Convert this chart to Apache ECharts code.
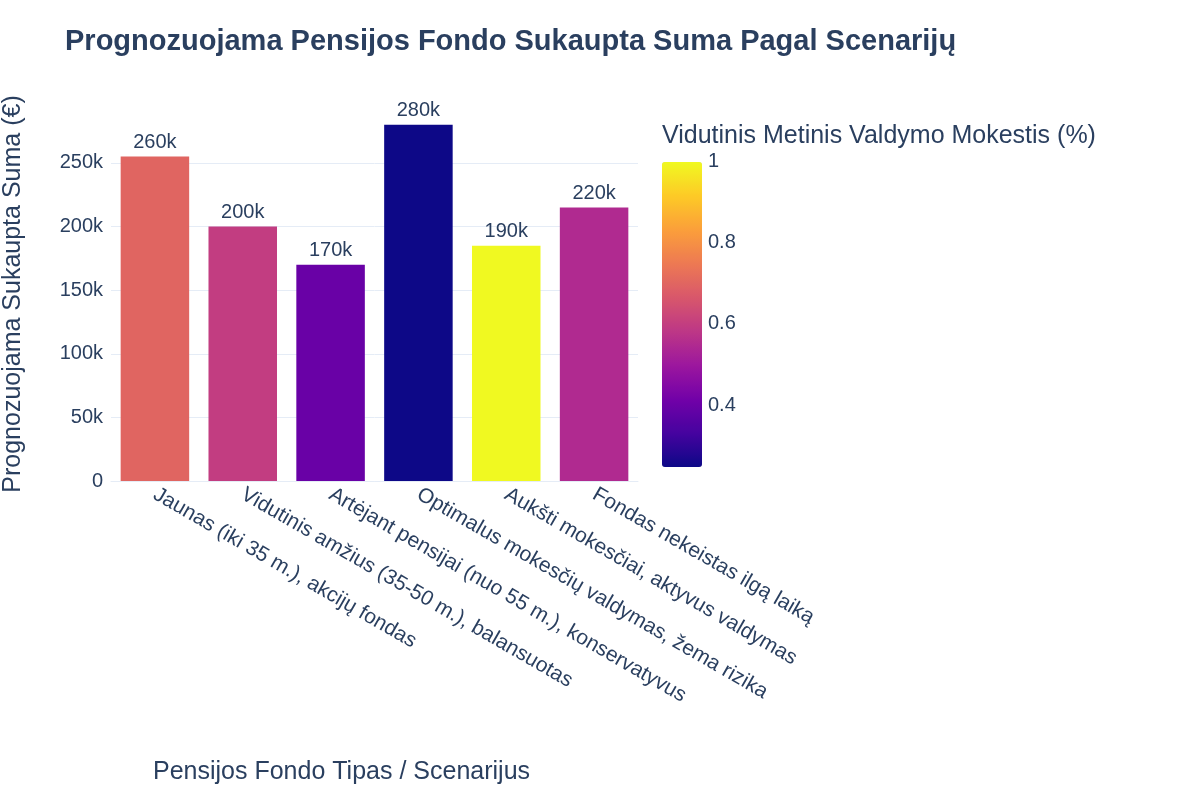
<!DOCTYPE html>
<html>
<head>
<meta charset="utf-8">
<script src="https://cdn.jsdelivr.net/npm/echarts@6/dist/echarts.min.js"></script>
<style>html,body{margin:0;background:#fff}#chart{width:1200px;height:800px}</style>
</head>
<body>
<div id="chart"></div>
<script>
var categories = ['Jaunas (iki 35 m.), akcijų fondas', 'Vidutinis amžius (35-50 m.), balansuotas',
    'Artėjant pensijai (nuo 55 m.), konservatyvus', 'Optimalus mokesčių valdymas, žema rizika',
    'Aukšti mokesčiai, aktyvus valdymas', 'Fondas nekeistas ilgą laiką'];
var sums = [255000, 200000, 170000, 280000, 185000, 215000];
var fees = [0.7, 0.6, 0.4, 0.25, 1.0, 0.55];
var feeTicks = [0.4, 0.6, 0.8, 1];

var font = 'Liberation Sans, Arial, sans-serif';
var txt = '#2a3f5f';
var chart = echarts.init(document.getElementById('chart'));

// colorbar tick labels
var feeMin = 0.25, feeMax = 1.0, cbTop = 162, cbH = 305;
var tickTexts = feeTicks.map(function (v) {
    return {type: 'text', left: 708, top: cbTop + cbH - (v - feeMin) / (feeMax - feeMin) * cbH - 11,
        style: {text: String(v), font: '20px ' + font, fill: txt}};
});

function fmt(v) {
    // 2 significant digits, like plotly .2s
    return Number((v / 1000).toPrecision(2)) + 'k';
}

var g = '#e5ecf6';

chart.setOption({
    textStyle: {fontFamily: font},
    title: {text: 'Prognozuojama Pensijos Fondo Sukaupta Suma Pagal Scenarijų', left: 60, top: 22,
        textStyle: {fontSize: 29, fontWeight: 'bold', color: txt, fontFamily: font}},
    grid: {left: 110, right: 562, top: 107, bottom: 319},
    xAxis: {
        type: 'category', data: categories,
        axisLine: {lineStyle: {color: g}}, axisTick: {show: false},
        axisLabel: {rotate: -30, color: txt, fontSize: 21, interval: 0, margin: 12}
    },
    yAxis: {
        type: 'value', min: 0, max: 294000, interval: 50000,
        name: 'Prognozuojama Sukaupta Suma (€)', nameLocation: 'middle', nameGap: 85,
        nameTextStyle: {fontSize: 25, color: txt},
        splitLine: {lineStyle: {color: [g, g, g, g, g, g, 'rgba(0,0,0,0)']}},
        axisLabel: {color: txt, fontSize: 20, showMaxLabel: false,
            formatter: function (v) { return v === 0 ? '0' : (v / 1000) + 'k'; }}
    },
    visualMap: {
        type: 'continuous', min: feeMin, max: feeMax, dimension: 2, seriesIndex: 0,
        calculable: false, showLabel: false, text: null,
        left: 647, top: cbTop - 15, itemWidth: 40, itemHeight: cbH,
        inRange: {color: ['#0d0887', '#46039f', '#7201a8', '#9c179e', '#bd3786', '#d8576b',
            '#ed7953', '#fb9f3a', '#fdca26', '#f0f921']}
    },
    graphic: [
        {type: 'text', left: 662, top: 124, style: {text: 'Vidutinis Metinis Valdymo Mokestis (%)',
            font: '25px ' + font, fill: txt}},
        {type: 'text', left: 153, top: 760, style: {text: 'Pensijos Fondo Tipas / Scenarijus',
            font: '25px ' + font, fill: txt}}
    ].concat(tickTexts),
    series: [{
        type: 'bar', barCategoryGap: '22%',
        data: categories.map(function (c, i) { return [c, sums[i], fees[i]]; }),
        encode: {x: 0, y: 1},
        label: {show: true, position: 'top', color: txt, fontSize: 20, distance: 4,
            formatter: function (p) { return fmt(p.value[1]); }}
    }]
});
</script>
</body>
</html>
